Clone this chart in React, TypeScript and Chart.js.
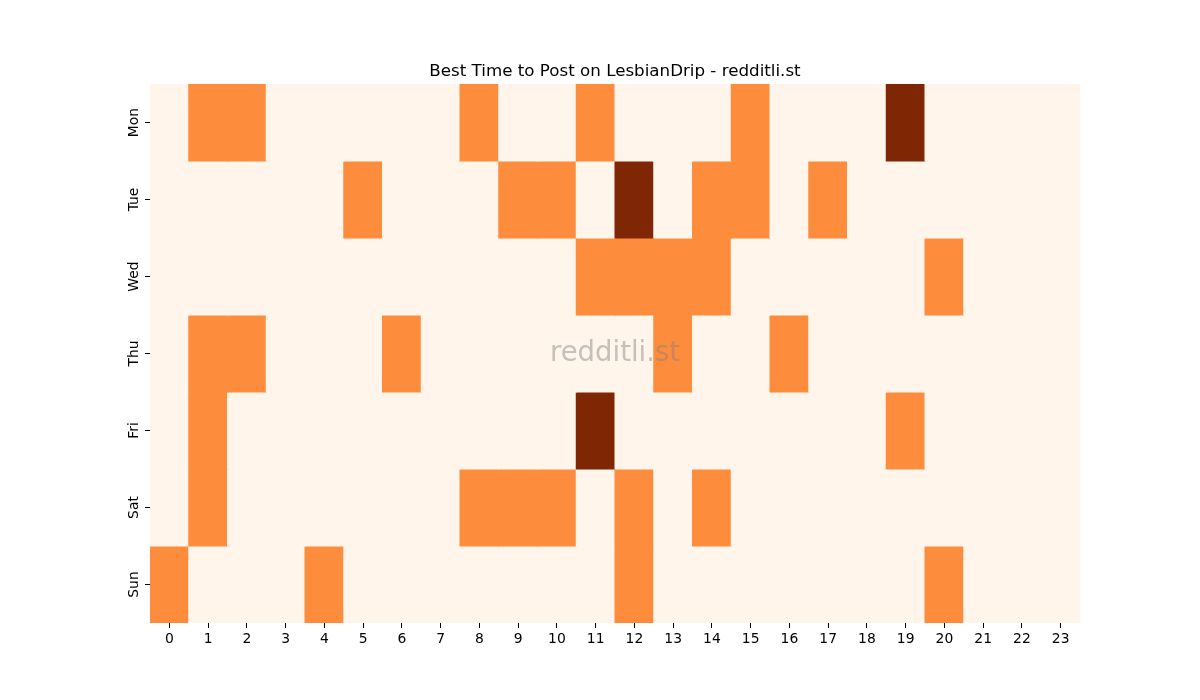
import React, { useEffect, useRef } from "react";
import { Chart, registerables } from "chart.js";

Chart.register(...registerables);

const days = ["Mon", "Tue", "Wed", "Thu", "Fri", "Sat", "Sun"];
const hours = Array.from({ length: 24 }, (_, i) => String(i));

// 0 = low, 1 = medium, 2 = high
const mon = [0, 1, 1, 0, 0, 0, 0, 0, 1, 0, 0, 1, 0, 0, 0, 1, 0, 0, 0, 2, 0, 0, 0, 0];
const tue = [0, 0, 0, 0, 0, 1, 0, 0, 0, 1, 1, 0, 2, 0, 1, 1, 0, 1, 0, 0, 0, 0, 0, 0];
const wed = [0, 0, 0, 0, 0, 0, 0, 0, 0, 0, 0, 1, 1, 1, 1, 0, 0, 0, 0, 0, 1, 0, 0, 0];
const thu = [0, 1, 1, 0, 0, 0, 1, 0, 0, 0, 0, 0, 0, 1, 0, 0, 1, 0, 0, 0, 0, 0, 0, 0];
const fri = [0, 1, 0, 0, 0, 0, 0, 0, 0, 0, 0, 2, 0, 0, 0, 0, 0, 0, 0, 1, 0, 0, 0, 0];
const sat = [0, 1, 0, 0, 0, 0, 0, 0, 1, 1, 1, 0, 1, 0, 1, 0, 0, 0, 0, 0, 0, 0, 0, 0];
const sun = [1, 0, 0, 0, 1, 0, 0, 0, 0, 0, 0, 0, 1, 0, 0, 0, 0, 0, 0, 0, 1, 0, 0, 0];

const rows = [mon, tue, wed, thu, fri, sat, sun];
const palette = ["#fff5eb", "#fd8d3c", "#7f2704"];

const titleText = "Best Time to Post on LesbianDrip - redditli.st";
const watermark = "redditli.st";
const FONT = "'DejaVu Sans', sans-serif";

export default function App() {
  const ref = useRef<HTMLCanvasElement | null>(null);

  useEffect(() => {
    if (!ref.current) return;
    const overlay = {
      id: "overlay",
      afterDatasetsDraw(chart: any) {
        const { ctx, chartArea } = chart;
        ctx.save();
        ctx.font = `27.5px ${FONT}`;
        ctx.fillStyle = "rgba(128,128,128,0.45)";
        ctx.textAlign = "center";
        ctx.textBaseline = "middle";
        ctx.fillText(watermark, (chartArea.left + chartArea.right) / 2, (chartArea.top + chartArea.bottom) / 2);
        ctx.font = `16.7px ${FONT}`;
        ctx.fillStyle = "#000";
        ctx.fillText(titleText, (chartArea.left + chartArea.right) / 2, chartArea.top - 12);
        ctx.restore();
      },
    };
    const chart = new Chart(ref.current, {
      type: "bar",
      data: {
        labels: hours,
        datasets: rows.map((r, i) => ({
          label: days[i],
          data: r.map(() => 1),
          backgroundColor: r.map((v) => palette[v]),
          borderWidth: 0,
          inflateAmount: 0.5,
          barPercentage: 1,
          categoryPercentage: 1,
        })),
      },
      options: {
        responsive: false,
        animation: false,
        layout: { padding: { top: 84, left: 0, right: 120, bottom: 0 } },
        plugins: {
          legend: { display: false },
          tooltip: { enabled: false },
          title: { display: false },
        },
        scales: {
          x: {
            type: "category",
            stacked: true,
            offset: true,
            border: { display: false },
            grid: {
              offset: false,
              drawOnChartArea: false,
              drawTicks: true,
              tickLength: 5,
              tickWidth: 1,
              tickColor: "#000",
            },
            ticks: {
              color: "#000",
              font: { family: FONT, size: 13.9 },
              padding: 3,
              maxRotation: 0,
              minRotation: 0,
              autoSkip: false,
            },
            afterFit(scale: any) {
              scale.height = 77;
            },
          },
          y: {
            type: "linear",
            stacked: true,
            reverse: true,
            min: 0,
            max: 7,
            border: { display: false },
            grid: {
              drawOnChartArea: false,
              drawTicks: true,
              tickLength: 5,
              tickWidth: 1,
              tickColor: "#000",
            },
            afterBuildTicks(scale: any) {
              scale.ticks = days.map((_, i) => ({ value: i + 0.5 }));
            },
            ticks: {
              color: "#000",
              font: { family: FONT, size: 13.9 },
              padding: -5,
              minRotation: 90,
              maxRotation: 90,
              crossAlign: "center",
              callback: (v: any) => days[Math.floor(Number(v))],
            },
            afterFit(scale: any) {
              scale.width = 150;
            },
          },
        },
      },
      plugins: [overlay],
    } as any);
    return () => chart.destroy();
  }, []);

  return (
    <div style={{ position: "absolute", left: 0, top: 0, width: 1200, height: 700, background: "#fff" }}>
      <canvas ref={ref} width={1200} height={700} />
    </div>
  );
}
